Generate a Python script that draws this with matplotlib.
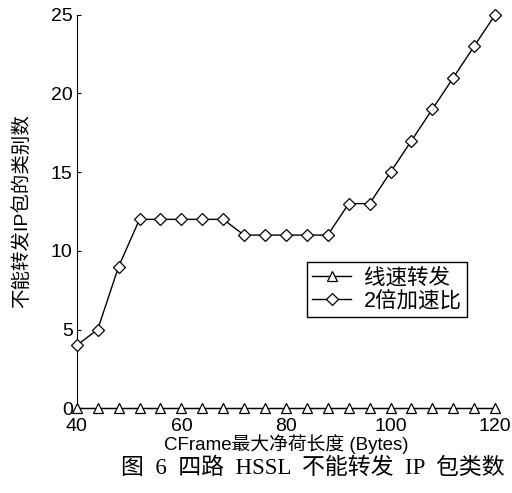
import matplotlib
matplotlib.use("Agg")
import matplotlib.pyplot as plt

x_vals = [40, 44, 48, 52, 56, 60, 64, 68, 72, 76, 80, 84, 88, 92, 96, 100, 104, 108, 112, 116, 120]
line_speed = [0] * 21
speedup2 = [4, 5, 9, 12, 12, 12, 12, 12, 11, 11, 11, 11, 11, 13, 13, 15, 17, 19, 21, 23, 25]
x_ticks = [40, 60, 80, 100, 120]
y_ticks = [0, 5, 10, 15, 20, 25]
series_names = ["线速转发", "2倍加速比"]
xlabel = "CFrame最大净荷长度 (Bytes)"
ylabel = "不能转发IP包的类别数"
caption = "图  6  四路  HSSL  不能转发  IP  包类数"

sans = ["Liberation Sans", "Noto Sans CJK SC"]
serif = ["Liberation Serif", "Noto Sans CJK SC"]
plt.rcParams["font.family"] = sans

fig = plt.figure(figsize=(5.12, 4.93), dpi=100)
ax = fig.add_axes([0.150, 0.172, 0.817, 0.798])

ax.plot(x_vals, line_speed, color="black", lw=1.0, marker="^", ms=7,
        mfc="white", mec="black", mew=0.9, label=series_names[0], clip_on=False, zorder=3)
ax.plot(x_vals, speedup2, color="black", lw=1.0, marker="D", ms=6,
        mfc="white", mec="black", mew=0.9, label=series_names[1], clip_on=False, zorder=3)

ax.set_xlim(40, 120)
ax.set_ylim(0, 25)
ax.set_xticks(x_ticks)
ax.set_yticks(y_ticks)
ax.spines["top"].set_visible(False)
ax.spines["right"].set_visible(False)
ax.tick_params(axis="both", direction="in", length=3, width=0.8, labelsize=14, pad=3)
ax.tick_params(axis="x", length=0, pad=7)

ax.set_xlabel(xlabel, fontsize=13.5)
ax.xaxis.set_label_coords(0.5, -0.066)
ax.set_ylabel(ylabel, fontsize=14, labelpad=14)

leg = ax.legend(loc="upper left", bbox_to_anchor=(0.55, 0.372), fontsize=15.5,
                frameon=True, fancybox=False, edgecolor="black", framealpha=1,
                handlelength=1.8, borderpad=0.25, labelspacing=0.12, handletextpad=0.6,
                borderaxespad=0)
leg.get_frame().set_linewidth(1.0)

fig.text(0.61, 0.05, caption, fontsize=16.5, family=serif, ha="center", va="center")

fig.savefig("out.png", dpi=100)
